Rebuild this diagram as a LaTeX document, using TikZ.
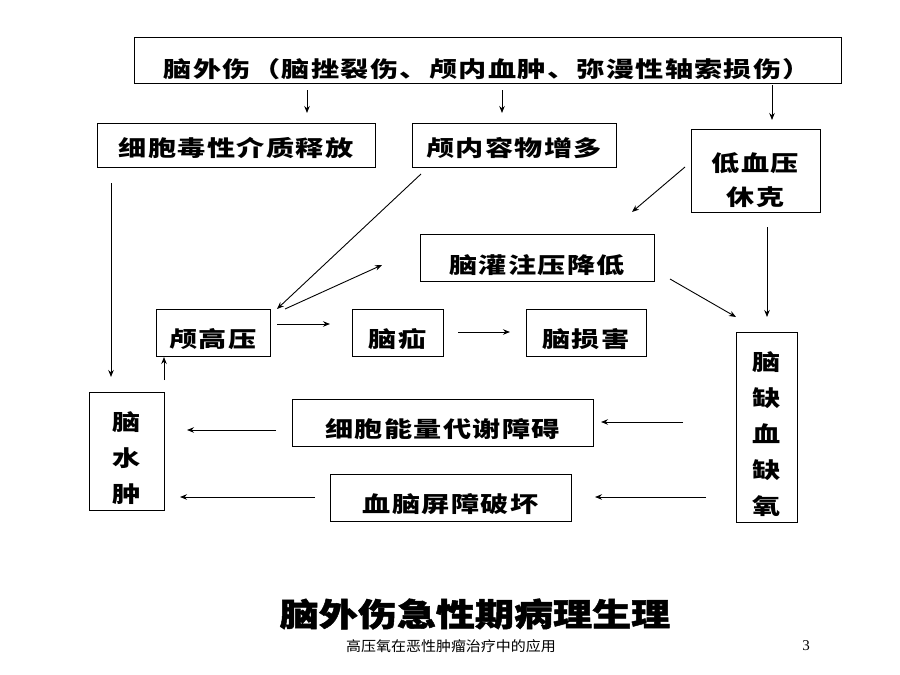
\documentclass[tikz,border=0pt]{standalone}
\usepackage{fontspec}
\usetikzlibrary{arrows.meta}
\newfontfamily\boxfont{Noto Sans CJK SC}[FakeStretch=1.28, LetterSpace=6]
\newfontfamily\titlefont{Noto Sans CJK SC}[FakeStretch=1.22, FakeBold=1.5]
\newfontfamily\subfont{Noto Sans CJK SC}[FakeStretch=1.07]
\newfontfamily\numfont{Liberation Serif}
\begin{document}
\begin{tikzpicture}[x=1pt,y=-1pt,
  box/.style={draw=black, line width=1pt, inner sep=0pt},
  lbl/.style={font=\boxfont\bfseries\fontsize{22}{36}\selectfont, align=center, inner sep=0pt},
  arr/.style={-{Stealth[length=7pt,width=5.5pt]}, line width=0.9pt}]
\fill[white] (0,0) rectangle (900,675);
\useasboundingbox (0,0) rectangle (900,675);

% boxes
\node[box, minimum width=707pt, minimum height=46pt] (top) at (487.5,60) {};
\node[lbl] (topt) at ([yshift=-9pt]top.center) {脑外伤（脑挫裂伤、颅内血肿、弥漫性轴索损伤）};

\node[box, minimum width=278pt, minimum height=44pt] (cyto) at (236,145) {};
\node[lbl] (cytot) at ([yshift=-3pt]cyto.center) {细胞毒性介质释放};

\node[box, minimum width=204pt, minimum height=44pt] (incr) at (514,145) {};
\node[lbl] (incrt) at ([yshift=-3pt]incr.center) {颅内容物增多};

\node[box, minimum width=129pt, minimum height=83pt] (hypo) at (755.5,170.5) {};
\node[lbl] (hypot) at ([yshift=-10pt]hypo.center) {低血压\\[-2pt]休克};

\node[box, minimum width=234pt, minimum height=47pt] (perf) at (537,257.5) {};
\node[lbl] (perft) at ([yshift=-8pt]perf.center) {脑灌注压降低};

\node[box, minimum width=114pt, minimum height=47pt] (icp) at (213,332.5) {};
\node[lbl] (icpt) at ([yshift=-7pt]icp.center) {颅高压};

\node[box, minimum width=91pt, minimum height=47pt] (hern) at (397.5,332.5) {};
\node[lbl] (hernt) at ([yshift=-7pt]hern.center) {脑疝};

\node[box, minimum width=120pt, minimum height=47pt] (dmg) at (586,332.5) {};
\node[lbl] (dmgt) at ([yshift=-7pt]dmg.center) {脑损害};

\node[box, minimum width=61pt, minimum height=190pt] (isch) at (766.5,427) {};
\node[lbl] (ischt) at ([yshift=-7pt]isch.center) {脑\\缺\\血\\缺\\氧};

\node[box, minimum width=75pt, minimum height=118pt] (edema) at (126.5,451) {};
\node[lbl] (edemat) at ([yshift=-7pt]edema.center) {脑\\水\\肿};

\node[box, minimum width=301pt, minimum height=47pt] (energy) at (442.5,422.5) {};
\node[lbl] (energyt) at ([yshift=-7pt]energy.center) {细胞能量代谢障碍};

\node[box, minimum width=241pt, minimum height=47pt] (bbb) at (450.5,497.5) {};
\node[lbl] (bbbt) at ([yshift=-7pt]bbb.center) {血脑屏障破坏};

% connector end points
\coordinate (a1s) at (307,90);  \coordinate (a1e) at (307,113);
\coordinate (a2s) at (502,90);  \coordinate (a2e) at (502,113);
\coordinate (a3s) at (772,85);  \coordinate (a3e) at (772,120);
\coordinate (a4s) at (111,183); \coordinate (a4e) at (111,377);
\coordinate (a5s) at (421,174); \coordinate (a5e) at (277,309);
\coordinate (a6s) at (285,309); \coordinate (a6e) at (382,265);
\coordinate (a7s) at (685,167); \coordinate (a7e) at (632,212);
\coordinate (a8s) at (767,227); \coordinate (a8e) at (767,317);
\coordinate (a9s) at (670,279); \coordinate (a9e) at (736,317);
\coordinate (b1s) at (277,324); \coordinate (b1e) at (330,324);
\coordinate (b2s) at (458,332); \coordinate (b2e) at (510,332);
\coordinate (b3s) at (683,422); \coordinate (b3e) at (601,422);
\coordinate (b4s) at (276,430); \coordinate (b4e) at (187,430);
\coordinate (b5s) at (706,497); \coordinate (b5e) at (595,497);
\coordinate (b6s) at (315,497); \coordinate (b6e) at (180,497);
\coordinate (b7s) at (164,380); \coordinate (b7e) at (164,357);

\draw[arr] (a1s) -- (a1e);
\draw[arr] (a2s) -- (a2e);
\draw[arr] (a3s) -- (a3e);
\draw[arr] (a4s) -- (a4e);
\draw[arr] (a5s) -- (a5e);
\draw[arr] (a6s) -- (a6e);
\draw[arr] (a7s) -- (a7e);
\draw[arr] (a8s) -- (a8e);
\draw[arr] (a9s) -- (a9e);
\draw[arr] (b1s) -- (b1e);
\draw[arr] (b2s) -- (b2e);
\draw[arr] (b3s) -- (b3e);
\draw[arr] (b4s) -- (b4e);
\draw[arr] (b5s) -- (b5e);
\draw[arr] (b6s) -- (b6e);
\draw[arr] (b7s) -- (b7e);

% title and footer
\node[inner sep=0pt] (title) at (475,614) {\titlefont\bfseries\fontsize{32}{32}\selectfont 脑外伤急性期病理生理};
\node[inner sep=0pt] (sub) at (451,646) {\subfont\fontsize{14}{14}\selectfont 高压氧在恶性肿瘤治疗中的应用};
\node[inner sep=0pt] (num) at (806,646) {\numfont\fontsize{15}{15}\selectfont 3};
\end{tikzpicture}
\end{document}
